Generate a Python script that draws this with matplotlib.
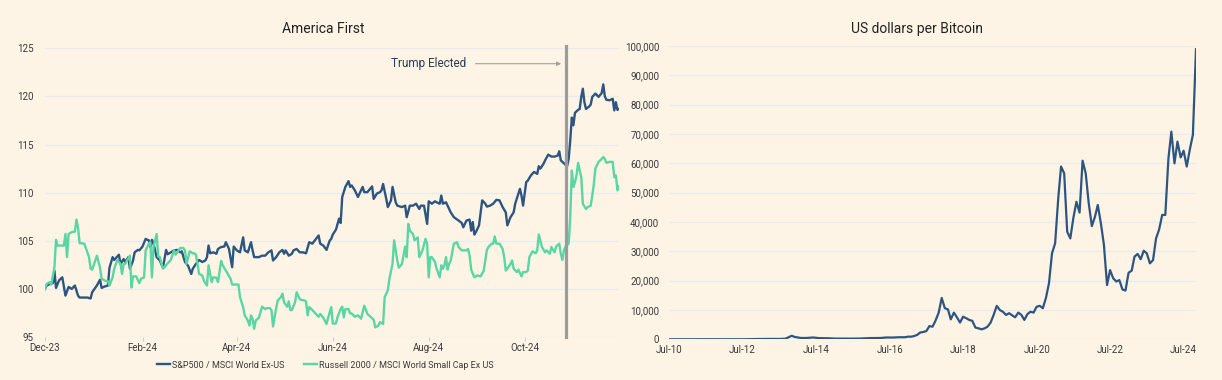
"""
Two panels: America First relative performance, and US dollars per Bitcoin
"""

import matplotlib
matplotlib.use('Agg')
import matplotlib.pyplot as plt
import matplotlib.dates as mdates
from matplotlib.ticker import FuncFormatter
import pandas as pd

plt.rcParams['font.family'] = ['Roboto', 'DejaVu Sans']

# ---- left panel data (days after 1 Dec 2023, index level) ----
spx_day = [0, 1, 3, 5, 6, 7, 9, 11, 13, 15, 17, 19, 21, 22, 25, 27, 29, 30, 33, 35,
           36, 38, 40, 41, 43, 44, 47, 48, 50, 51, 53, 54, 56, 57, 59, 60, 62, 64, 65, 66,
           67, 68, 69, 71, 73, 75, 77, 78, 80, 82, 84, 86, 87, 89, 91, 93, 94, 96, 98, 100,
           102, 103, 104, 105, 107, 109, 110, 112, 114, 115, 117, 119, 120, 122, 124, 126, 127, 129, 131, 132,
           133, 136, 138, 140, 142, 144, 145, 147, 149, 151, 152, 153, 155, 157, 158, 160, 162, 164, 166, 168,
           170, 174, 175, 177, 179, 181, 182, 183, 185, 187, 188, 189, 191, 193, 194, 195, 197, 199, 200, 202,
           203, 205, 208, 209, 211, 213, 214, 215, 217, 218, 220, 221, 223, 224, 227, 229, 230, 232, 234, 236,
           238, 239, 241, 243, 244, 246, 248, 249, 251, 252, 253, 255, 256, 258, 260, 263, 265, 266, 268, 270,
           271, 272, 273, 274, 276, 278, 280, 281, 283, 285, 287, 289, 291, 293, 294, 296, 298, 299, 301, 302,
           303, 304, 306, 307, 309, 311, 313, 314, 315, 317, 318, 320, 322, 324, 326, 327, 328, 330, 332, 333,
           334, 335, 336, 337, 339, 340, 341, 342, 343, 344, 346, 347, 348, 350, 352, 354, 355, 356, 357, 359,
           361, 362, 363, 364, 365]
spx_msci = [100.0, 100.35, 100.5, 100.6, 101.9, 100.1, 100.9, 101.2, 99.3, 100.2, 100.0, 100.35, 99.3, 99.1, 99.1, 99.1, 99.0, 99.65, 100.35, 100.95,
            100.1, 100.25, 100.35, 102.2, 103.3, 103.0, 103.55, 102.6, 103.1, 102.8, 103.3, 102.1, 102.95, 103.8, 104.05, 104.0, 104.4, 105.2, 105.1, 105.05,
            104.35, 105.1, 104.7, 103.3, 102.95, 102.2, 104.05, 103.6, 103.8, 104.0, 104.05, 103.8, 103.9, 102.8, 102.4, 101.55, 102.1, 102.6, 103.0, 102.8,
            102.95, 103.3, 104.5, 103.7, 103.8, 103.65, 104.15, 104.35, 104.4, 104.85, 104.15, 102.25, 104.4, 104.0, 103.8, 105.35, 104.0, 103.8, 104.85, 104.0,
            103.3, 103.3, 103.45, 103.45, 103.8, 104.0, 102.95, 103.3, 103.8, 104.05, 103.65, 104.0, 103.45, 103.65, 104.0, 104.15, 103.8, 103.8, 103.7, 104.85,
            104.7, 105.55, 104.7, 104.5, 104.05, 105.0, 105.2, 105.65, 106.15, 107.3, 106.85, 109.55, 110.6, 111.2, 110.6, 110.75, 110.25, 109.55, 109.9, 110.6,
            110.05, 110.05, 110.65, 109.35, 109.9, 110.05, 110.25, 110.9, 109.35, 108.5, 109.2, 110.6, 109.0, 108.65, 108.5, 108.65, 107.45, 108.65, 108.65, 108.85,
            108.3, 108.65, 108.65, 106.75, 109.1, 108.85, 109.1, 109.0, 108.85, 109.7, 108.85, 109.0, 108.65, 107.95, 107.45, 107.1, 106.85, 106.4, 107.1, 107.2,
            106.05, 106.95, 105.65, 105.9, 106.6, 109.2, 108.85, 108.55, 108.65, 108.85, 109.25, 109.2, 108.5, 107.95, 106.6, 107.45, 107.95, 108.85, 109.9, 110.4,
            109.7, 108.65, 111.1, 111.25, 111.8, 112.15, 111.95, 112.75, 112.5, 113.0, 113.35, 113.95, 113.75, 113.75, 113.85, 114.3, 113.35, 113.05, 112.75, 113.5,
            115.45, 117.8, 117.0, 118.3, 118.6, 118.7, 119.95, 120.8, 119.4, 118.7, 118.95, 119.15, 119.95, 120.3, 119.95, 120.35, 121.25, 120.0, 119.65, 119.6,
            119.75, 118.55, 119.4, 118.6, 118.7]

rut_day = [0, 1, 3, 4, 6, 7, 8, 11, 12, 13, 14, 15, 17, 19, 20, 21, 22, 25, 28, 29,
           30, 32, 33, 35, 36, 39, 40, 41, 43, 44, 46, 48, 49, 50, 51, 54, 55, 56, 58, 60,
           61, 63, 64, 66, 67, 68, 69, 71, 72, 73, 75, 76, 78, 80, 82, 83, 85, 86, 88, 89,
           90, 92, 94, 95, 96, 98, 100, 101, 103, 104, 106, 107, 109, 110, 112, 113, 115, 118, 119, 120,
           122, 123, 124, 126, 127, 129, 130, 131, 132, 133, 134, 136, 137, 138, 140, 141, 143, 144, 145, 147,
           148, 150, 151, 152, 154, 155, 156, 157, 159, 160, 162, 163, 165, 166, 167, 168, 170, 172, 174, 175,
           177, 179, 181, 182, 183, 185, 186, 188, 189, 190, 191, 193, 194, 195, 197, 199, 201, 203, 205, 207,
           209, 210, 212, 213, 215, 216, 218, 219, 221, 222, 224, 225, 227, 229, 230, 231, 232, 234, 235, 237,
           238, 240, 242, 243, 244, 245, 246, 248, 249, 251, 252, 253, 254, 255, 256, 257, 258, 260, 262, 263,
           265, 266, 268, 269, 270, 271, 273, 274, 275, 277, 279, 281, 282, 284, 285, 286, 287, 289, 291, 292,
           293, 294, 296, 297, 298, 300, 301, 303, 304, 306, 307, 308, 310, 312, 313, 314, 316, 318, 319, 321,
           322, 324, 325, 327, 328, 329, 330, 331, 333, 334, 335, 336, 337, 338, 339, 341, 342, 344, 345, 347,
           348, 349, 350, 352, 354, 355, 356, 357, 359, 361, 362, 363, 364, 365]
rut_msci = [100.0, 100.5, 100.7, 100.45, 102.25, 105.1, 104.5, 104.5, 104.5, 105.7, 103.3, 105.7, 105.9, 105.95, 107.2, 106.4, 104.75, 104.7, 103.3, 102.1,
            102.0, 102.95, 103.45, 102.2, 101.05, 100.8, 100.8, 100.35, 101.2, 102.1, 103.0, 102.6, 101.55, 102.6, 102.6, 103.45, 100.15, 101.3, 101.3, 100.6,
            101.05, 101.2, 104.0, 104.7, 104.85, 101.2, 104.35, 105.7, 103.35, 103.3, 102.1, 102.25, 102.65, 103.0, 104.0, 103.55, 104.0, 104.25, 104.25, 104.0,
            102.6, 103.9, 103.7, 103.7, 103.55, 101.55, 101.4, 100.85, 100.35, 102.45, 100.7, 101.2, 101.15, 100.7, 102.9, 102.45, 101.9, 101.05, 100.45, 100.45,
            100.45, 100.45, 99.15, 98.1, 97.25, 96.7, 96.2, 97.25, 96.9, 95.85, 96.7, 97.0, 97.55, 98.15, 97.9, 98.0, 98.0, 97.8, 96.1, 98.0,
            98.8, 99.15, 99.5, 98.6, 98.15, 98.7, 97.8, 97.8, 98.6, 99.65, 98.95, 98.85, 98.8, 98.7, 97.25, 98.1, 97.8, 97.45, 97.1, 97.4,
            97.0, 96.35, 97.55, 98.1, 96.4, 96.4, 97.05, 97.9, 98.15, 97.05, 97.9, 97.9, 97.45, 97.45, 97.1, 97.25, 96.9, 98.25, 97.4, 97.1,
            96.8, 96.0, 96.2, 96.55, 96.35, 99.15, 99.85, 101.05, 102.6, 105.05, 102.95, 102.2, 102.6, 104.4, 103.3, 106.75, 106.05, 105.7, 105.05, 105.35,
            103.3, 104.0, 105.2, 104.7, 101.2, 103.3, 103.3, 102.8, 102.1, 101.2, 102.45, 102.1, 102.45, 103.3, 102.0, 102.6, 102.95, 104.7, 104.85, 104.35,
            104.0, 104.0, 104.0, 104.15, 103.45, 102.0, 101.2, 101.3, 101.4, 101.3, 101.9, 104.05, 104.35, 104.7, 104.7, 105.45, 104.7, 104.7, 104.15, 103.3,
            101.9, 102.1, 102.6, 102.95, 102.1, 101.75, 102.0, 101.3, 101.75, 101.75, 101.9, 103.3, 103.9, 103.7, 104.0, 105.65, 104.35, 103.8, 104.0, 103.65,
            104.35, 103.8, 104.4, 104.7, 103.65, 103.0, 104.0, 104.4, 104.7, 107.45, 112.3, 110.6, 111.1, 111.8, 113.1, 111.6, 108.85, 108.3, 108.5, 108.65,
            109.7, 110.9, 112.5, 113.2, 113.5, 113.7, 113.5, 113.1, 113.2, 113.2, 111.6, 111.8, 110.25, 110.65]

left_ticks = ['2023-12-01', '2024-02-01', '2024-04-01', '2024-06-01', '2024-08-01', '2024-10-01']
election_marker = '2024-10-27'

# ---- right panel data (months after Jul 2010, thousands of USD) ----
btc_month = [0, 6, 11, 18, 24, 30, 33, 36, 38, 40, 41, 43, 45, 47, 49, 52, 54, 58, 62, 66,
             69, 71, 73, 75, 76, 77, 78, 79, 80, 81, 82, 83, 84, 85, 86, 87, 88, 89, 90, 91,
             92, 93, 94, 95, 96, 97, 98, 99, 100, 101, 102, 103, 104, 105, 106, 107, 108, 109, 110, 111,
             113, 114, 115, 116, 117, 118, 119, 120, 121, 122, 123, 124, 125, 126, 127, 128, 129, 130, 131, 132,
             133, 134, 135, 136, 137, 138, 139, 140, 141, 142, 143, 144, 145, 146, 147, 148, 149, 150, 151, 152,
             153, 154, 155, 156, 157, 158, 159, 160, 161, 162, 163, 164, 165, 166, 167, 168, 169, 170, 171, 172]
btc_usd_k = [0.0, 0.0, 0.02, 0.01, 0.01, 0.1, 0.13, 0.12, 0.2, 1.2, 0.8, 0.45, 0.45, 0.62, 0.4, 0.35, 0.25, 0.23, 0.25, 0.42,
             0.45, 0.62, 0.6, 0.7, 0.7, 0.7, 0.9, 0.9, 1.1, 1.5, 2.3, 2.5, 2.8, 4.5, 4.3, 6.4, 9.1, 14.1, 10.6, 10.2,
             6.8, 9.1, 7.5, 5.7, 7.7, 7.2, 6.6, 6.3, 4.0, 3.75, 3.4, 3.75, 4.3, 5.7, 8.3, 11.4, 10.0, 9.4, 8.3, 8.9,
             7.5, 9.1, 8.3, 6.6, 8.6, 9.4, 9.1, 11.1, 11.4, 10.6, 14.0, 19.1, 29.3, 32.7, 48.0, 58.9, 56.6, 36.7, 34.4, 41.3,
             46.9, 43.2, 60.9, 56.6, 46.4, 38.6, 41.8, 45.8, 39.5, 32.2, 18.5, 23.6, 20.8, 19.7, 20.2, 17.0, 16.6, 22.7, 23.4, 28.2,
             29.1, 27.3, 30.2, 29.3, 25.9, 27.0, 34.4, 37.5, 42.4, 42.4, 61.7, 70.8, 60.0, 67.4, 62.0, 64.3, 58.9, 64.8, 69.7, 98.9]

right_ticks = ['2010-07-01', '2012-07-01', '2014-07-01', '2016-07-01',
               '2018-07-01', '2020-07-01', '2022-07-01', '2024-07-01']

BG = '#fdf4e6'
NAVY = '#2d5580'
GREEN = '#5ad6a2'
GRID = '#e9ebed'
TXT = '#3a3a3a'

fig = plt.figure(figsize=(12.22, 3.80), dpi=100, facecolor=BG)

# ---------------- left panel ----------------
ax1 = fig.add_axes([45 / 1222, 43 / 380, 574 / 1222, 288.7 / 380], facecolor=BG)
d0 = pd.Timestamp('2023-12-01')
spx_dates = d0 + pd.to_timedelta(spx_day, unit='D')
rut_dates = d0 + pd.to_timedelta(rut_day, unit='D')

ax1.plot(spx_dates, spx_msci, color=NAVY, lw=1.7, label='S&P500 / MSCI World Ex-US', zorder=3)
ax1.plot(rut_dates, rut_msci, color=GREEN, lw=1.7, label='Russell 2000 / MSCI World Small Cap Ex US', zorder=3)

ax1.set_xlim(d0, d0 + pd.Timedelta(days=365))
ax1.set_ylim(95, 125)
ax1.set_yticks([95, 100, 105, 110, 115, 120, 125])
ax1.set_xticks(pd.to_datetime(left_ticks))
ax1.xaxis.set_major_formatter(mdates.DateFormatter('%b-%y'))
ax1.grid(axis='y', color=GRID, lw=1)
ax1.set_axisbelow(True)
for s in ax1.spines.values():
    s.set_visible(False)
ax1.tick_params(axis='y', length=0, labelsize=7, labelcolor=TXT, pad=8)
ax1.tick_params(axis='x', length=3, color='#d0d0d0', labelsize=7, labelcolor=TXT, pad=1)

# election marker
ax1.axvline(pd.Timestamp(election_marker), ymin=0, ymax=1.008, color='#9c9c9c', lw=2.3,
            clip_on=False, zorder=4)
ax1.annotate('', xy=(pd.Timestamp(election_marker) - pd.Timedelta(days=1), 123.4),
             xytext=(pd.Timestamp('2024-08-29'), 123.4),
             arrowprops=dict(arrowstyle='-|>', color='#a0a0a0', lw=0.8, mutation_scale=6))
ax1.text(pd.Timestamp('2024-08-01'), 123.4, 'Trump Elected', ha='center', va='center',
         fontsize=8.5, color='#2c3e55')

fig.text(323 / 1222, 1 - 29 / 380, 'America First', ha='center', va='center', fontsize=10, color='#222222')

fig.legend(loc='center', bbox_to_anchor=(325 / 1222, 15 / 380), ncol=2, frameon=False,
           fontsize=6.5, handlelength=1.5, handletextpad=0.15, columnspacing=2.2,
           labelcolor=TXT)

# ---------------- right panel ----------------
ax2 = fig.add_axes([669 / 1222, 40.7 / 380, 527 / 1222, 293.3 / 380], facecolor=BG)
b0 = pd.Timestamp('2010-07-01')
btc_dates = [b0 + pd.DateOffset(months=m) for m in btc_month]
ax2.plot(btc_dates, [v * 1000 for v in btc_usd_k], color=NAVY, lw=1.6, zorder=3)

ax2.set_xlim(b0, b0 + pd.DateOffset(months=172))
ax2.set_ylim(0, 100000)
ax2.set_yticks(range(0, 100001, 10000))
ax2.yaxis.set_major_formatter(FuncFormatter(lambda v, p: f'{int(v):,}'))
ax2.set_xticks(pd.to_datetime(right_ticks))
ax2.xaxis.set_major_formatter(mdates.DateFormatter('%b-%y'))
ax2.grid(axis='y', color=GRID, lw=1)
ax2.set_axisbelow(True)
for s in ax2.spines.values():
    s.set_visible(False)
ax2.tick_params(axis='y', length=0, labelsize=7, labelcolor=TXT, pad=7)
ax2.tick_params(axis='x', length=0, labelsize=7, labelcolor=TXT, pad=4)

fig.text(917 / 1222, 1 - 29 / 380, 'US dollars per Bitcoin', ha='center', va='center', fontsize=10, color='#222222')

fig.savefig('out.png', dpi=100, facecolor=BG)
